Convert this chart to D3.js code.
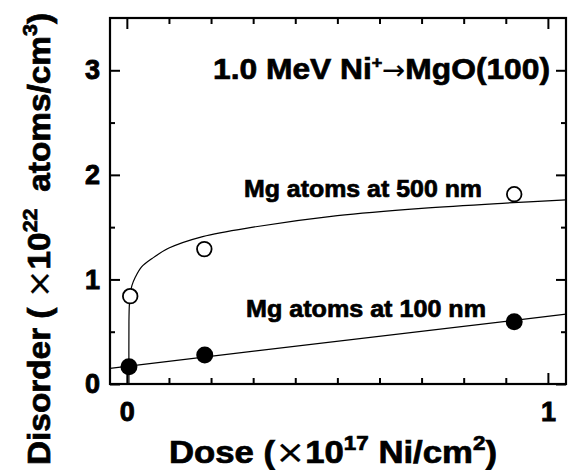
<!DOCTYPE html>
<html>
<head>
<meta charset="utf-8">
<script src="https://cdn.jsdelivr.net/npm/d3@7"></script>
<style>
  html, body { margin: 0; padding: 0; background: #fff; }
  svg { display: block; }
  text { font-family: "Liberation Sans", Arial, Helvetica, sans-serif; font-weight: bold; fill: #000; stroke: #000; stroke-width: 0.7px; }
  tspan.thin { font-family: "DejaVu Sans", sans-serif; font-weight: normal; stroke-width: 0.2px; }
</style>
</head>
<body>
<svg id="chart" width="574" height="470"></svg>
<script>
// ---- data ----
const xMajorTicks = [0, 1];
const xMinorTicks = [0.1, 0.2, 0.3, 0.4, 0.5, 0.6, 0.7, 0.8, 0.9];
const yMajorTicks = [0, 1, 2, 3];
const yMinorTicks = [0.5, 1.5, 2.5];

// Mg atoms at 500 nm (open circles)
const dose500 = [0.008, 0.184, 0.92];
const disorder500 = [0.84, 1.29, 1.815];
// Mg atoms at 100 nm (filled circles)
const dose100 = [0.005, 0.185, 0.92];
const disorder100 = [0.165, 0.277, 0.595];

// fitted curve for 500 nm
const curve500Dose = [0.005, 0.005, 0.006, 0.008, 0.012, 0.02, 0.035, 0.06, 0.1, 0.18, 0.3, 0.5, 0.7, 0.9, 1.043];
const curve500Dis  = [0.0, 0.6, 0.76, 0.86, 0.94, 1.02, 1.12, 1.2, 1.3, 1.41, 1.5, 1.61, 1.68, 1.73, 1.76];
// fitted line for 100 nm
const line100Dose = [-0.04, 1.043];
const line100Dis  = [0.15, 0.668];

// ---- layout ----
const svg = d3.select("#chart");
const L = 110, R = 566, T = 18, B = 384;
const x = d3.scaleLinear().domain([-0.04, 1.043]).range([L, R]);
const y = d3.scaleLinear().domain([0, 3.5]).range([B, T]);

function styleAxis(g) {
  g.select(".domain").remove();
  g.selectAll(".tick line").attr("stroke", "#000").attr("stroke-width", 2);
  g.selectAll(".tick text").attr("fill", "#000")
    .style("font-size", "27px").style("font-weight", "bold")
    .style("font-family", "'Liberation Sans', Arial, sans-serif")
    .style("stroke", "#000").style("stroke-width", "0.9px");
}
// bottom
svg.append("g").attr("transform", `translate(0,${B})`)
  .call(d3.axisBottom(x).tickValues(xMajorTicks).tickSize(-11).tickPadding(18).tickFormat(d3.format("d")))
  .call(styleAxis);
svg.append("g").attr("transform", `translate(0,${B})`)
  .call(d3.axisBottom(x).tickValues(xMinorTicks).tickSize(-6).tickFormat(""))
  .call(styleAxis);
// top
svg.append("g").attr("transform", `translate(0,${T})`)
  .call(d3.axisTop(x).tickValues(xMajorTicks).tickSize(-11).tickFormat(""))
  .call(styleAxis);
svg.append("g").attr("transform", `translate(0,${T})`)
  .call(d3.axisTop(x).tickValues(xMinorTicks).tickSize(-6).tickFormat(""))
  .call(styleAxis);
// left
svg.append("g").attr("transform", `translate(${L},0)`)
  .call(d3.axisLeft(y).tickValues(yMajorTicks).tickSize(-10).tickPadding(10).tickFormat(d3.format("d")))
  .call(styleAxis);
svg.append("g").attr("transform", `translate(${L},0)`)
  .call(d3.axisLeft(y).tickValues(yMinorTicks).tickSize(-5).tickFormat(""))
  .call(styleAxis);
// right
svg.append("g").attr("transform", `translate(${R},0)`)
  .call(d3.axisRight(y).tickValues(yMajorTicks).tickSize(-10).tickFormat(""))
  .call(styleAxis);
svg.append("g").attr("transform", `translate(${R},0)`)
  .call(d3.axisRight(y).tickValues(yMinorTicks).tickSize(-5).tickFormat(""))
  .call(styleAxis);

// frame
svg.append("rect").attr("x", L).attr("y", T).attr("width", R - L).attr("height", B - T)
  .attr("fill", "none").attr("stroke", "#000").attr("stroke-width", 2.2);

// curves
const lineGen = d3.line().x(d => x(d[0])).y(d => y(d[1])).curve(d3.curveCatmullRom.alpha(0.5));
svg.append("path")
  .datum(d3.zip(curve500Dose, curve500Dis))
  .attr("d", lineGen).attr("fill", "none").attr("stroke", "#000").attr("stroke-width", 1.2);
svg.append("path")
  .datum(d3.zip(line100Dose, line100Dis))
  .attr("d", d3.line().x(d => x(d[0])).y(d => y(d[1])))
  .attr("fill", "none").attr("stroke", "#000").attr("stroke-width", 1.2);

// points
svg.append("g").selectAll("circle").data(d3.zip(dose500, disorder500)).join("circle")
  .attr("cx", d => x(d[0])).attr("cy", d => y(d[1])).attr("r", 7.3)
  .attr("fill", "#fff").attr("stroke", "#000").attr("stroke-width", 1.8);
svg.append("g").selectAll("circle").data(d3.zip(dose100, disorder100)).join("circle")
  .attr("cx", d => x(d[0])).attr("cy", d => y(d[1])).attr("r", 8.5)
  .attr("fill", "#000");

// annotations
const title = svg.append("text").attr("x", 213).attr("y", 79)
  .attr("textLength", 337).attr("lengthAdjust", "spacingAndGlyphs")
  .style("font-size", "30px");
title.append("tspan").text("1.0 MeV Ni");
title.append("tspan").attr("dy", -11).style("font-size", "17px").text("+");
title.append("tspan").attr("dy", 11).attr("class", "thin").style("font-size", "26px").text("\u2192");
title.append("tspan").text("MgO(100)");

svg.append("text").attr("x", 244).attr("y", 197)
  .attr("textLength", 238).attr("lengthAdjust", "spacingAndGlyphs")
  .style("font-size", "23.5px").text("Mg atoms at 500 nm");
svg.append("text").attr("x", 246).attr("y", 317)
  .attr("textLength", 240).attr("lengthAdjust", "spacingAndGlyphs")
  .style("font-size", "23.5px").text("Mg atoms at 100 nm");

// x axis title
const xt = svg.append("text").attr("x", 169).attr("y", 463)
  .attr("textLength", 328).attr("lengthAdjust", "spacingAndGlyphs")
  .style("font-size", "31px");
xt.append("tspan").text("Dose (");
xt.append("tspan").attr("class", "thin").style("font-size", "32px").text("\u00D7");
xt.append("tspan").text("10");
xt.append("tspan").attr("dy", -13).style("font-size", "20px").text("17");
xt.append("tspan").attr("dy", 13).text(" Ni/cm");
xt.append("tspan").attr("dy", -13).style("font-size", "20px").text("2");
xt.append("tspan").attr("dy", 13).text(")");

// y axis title
const yt = svg.append("text").attr("transform", "translate(50,465) rotate(-90)")
  .attr("textLength", 452).attr("lengthAdjust", "spacingAndGlyphs")
  .style("font-size", "31px");
yt.append("tspan").text("Disorder ( ");
yt.append("tspan").attr("class", "thin").style("font-size", "32px").text("\u00D7");
yt.append("tspan").text("10");
yt.append("tspan").attr("dy", -13).style("font-size", "20px").text("22");
yt.append("tspan").attr("dy", 13).text("\u2002atoms/cm");
yt.append("tspan").attr("dy", -13).style("font-size", "20px").text("3");
yt.append("tspan").attr("dy", 13).text(")");
</script>
</body>
</html>
